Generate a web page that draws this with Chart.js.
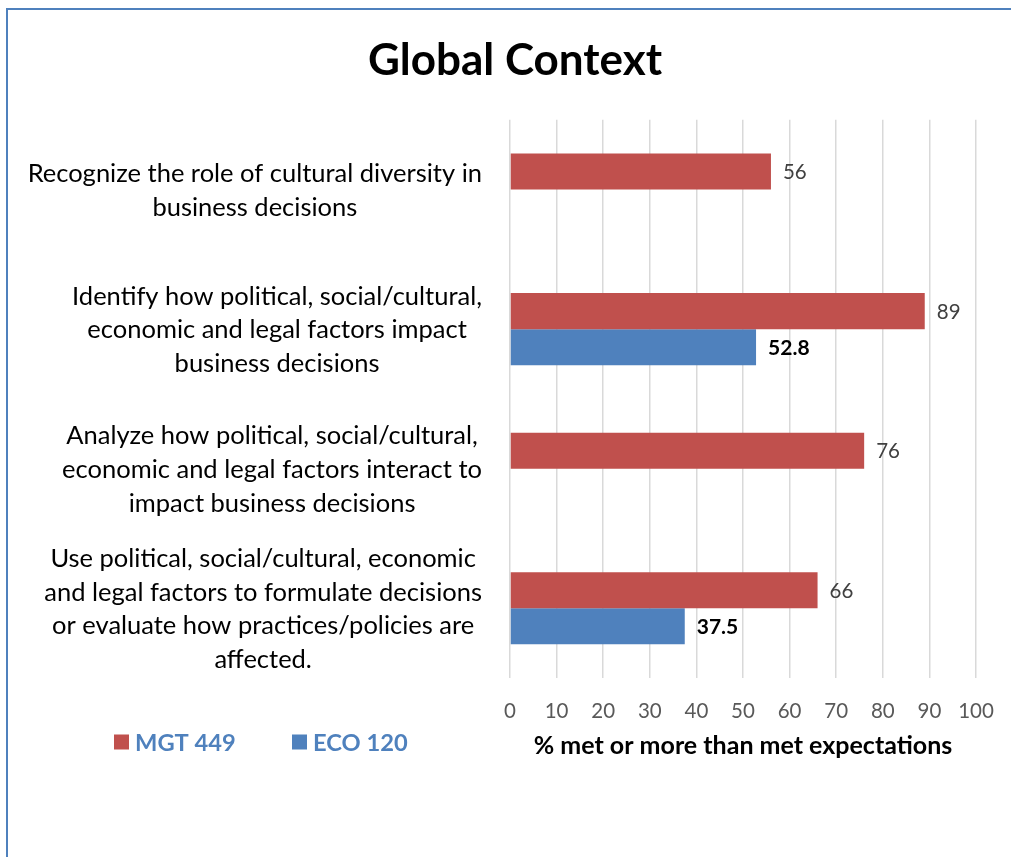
<!DOCTYPE html>
<html lang="en">
<head>
<meta charset="UTF-8">
<title>Global Context</title>
<script src="https://cdn.jsdelivr.net/npm/chart.js"></script>
<style>
  html, body { margin: 0; padding: 0; background: #fff; overflow: hidden; }
  .frame {
    position: absolute; left: 6px; top: 8px; width: 1100px; height: 900px;
    border-left: 2px solid #4F81BD; border-top: 2px solid #4F81BD;
  }
  #chart { position: absolute; left: 0; top: 0; }
</style>
</head>
<body>
<div class="frame">
  <canvas id="chart" width="1014" height="847"></canvas>
</div>
<script>
// data
const categories = [
  ["Recognize the role of cultural diversity in", "business decisions"],
  ["Identify how political, social/cultural,", "economic and legal factors impact", "business decisions"],
  ["Analyze how political, social/cultural,", "economic and legal factors interact to", "impact business decisions"],
  ["Use political, social/cultural, economic", "and legal factors to formulate decisions", "or evaluate how practices/policies are", "affected."]
];
const seriesNames = ["MGT 449", "ECO 120"];
const mgt449 = [56, 89, 76, 66];
const eco120 = [null, 52.8, null, 37.5];
const xTicks = [0, 10, 20, 30, 40, 50, 60, 70, 80, 90, 100];

const RED = '#C0504D';
const BLUE = '#4F81BD';
const FONT = 'Lato, Calibri, sans-serif';

// category labels, bar values and the legend are painted by hand
const extras = {
  id: 'extras',
  afterDraw(chart) {
    const ctx = chart.ctx;
    const area = chart.chartArea;
    const ys = chart.scales.y;
    ctx.save();

    // category labels: each block centred, blocks flush right against the axis
    ctx.font = '25.5px ' + FONT;
    ctx.fillStyle = '#000';
    ctx.textAlign = 'center';
    ctx.textBaseline = 'middle';
    const right = area.left - 28;
    const lh = 33.7;
    categories.forEach((lines, i) => {
      const w = Math.max(...lines.map(l => ctx.measureText(l).width));
      const cx = right - w / 2;
      const cy = ys.getPixelForValue(i) + 1;
      lines.forEach((l, j) => ctx.fillText(l, cx, cy + (j - (lines.length - 1) / 2) * lh));
    });

    // value labels
    ctx.textAlign = 'left';
    chart.data.datasets.forEach((ds, di) => {
      const meta = chart.getDatasetMeta(di);
      ctx.font = di === 0 ? '20.5px ' + FONT : 'bold 21px ' + FONT;
      ctx.fillStyle = di === 0 ? '#404040' : '#000';
      meta.data.forEach((bar, i) => {
        if (ds.data[i] == null) return;
        ctx.fillText(String(ds.data[i]), bar.x + 12, bar.y + 1);
      });
    });

    // legend
    const ly = area.bottom + 64;
    const lx = [106, 284];
    ctx.font = 'bold 23.7px ' + FONT;
    chart.data.datasets.forEach((ds, di) => {
      ctx.fillStyle = ds.backgroundColor;
      ctx.fillRect(lx[di], ly - 7.5, 15, 15);
      ctx.fillStyle = BLUE;
      ctx.fillText(ds.label, lx[di] + 21, ly + 1);
    });
    ctx.restore();
  }
};

new Chart(document.getElementById('chart'), {
  type: 'bar',
  data: {
    labels: categories,
    datasets: [
      { label: seriesNames[0], data: mgt449, backgroundColor: RED },
      { label: seriesNames[1], data: eco120, backgroundColor: BLUE }
    ]
  },
  options: {
    indexAxis: 'y',
    responsive: false,
    animation: false,
    categoryPercentage: 0.516,
    barPercentage: 1,
    layout: { padding: { left: 0, right: 0, top: 0, bottom: 93 } },
    plugins: {
      legend: { display: false },
      tooltip: { enabled: false },
      title: {
        display: true,
        text: 'Global Context',
        color: '#000',
        font: { family: FONT, size: 44, weight: 'bold' },
        padding: { top: 24, bottom: 33 }
      }
    },
    scales: {
      x: {
        min: 0, max: 100,
        afterBuildTicks(scale) { scale.ticks = xTicks.map(v => ({ value: v })); },
        afterFit(scale) { scale.height = 86; },
        grid: { color: '#d9d9d9', lineWidth: 1.5, drawTicks: false },
        border: { display: false },
        ticks: { color: '#595959', font: { family: FONT, size: 20.5 }, padding: 21 },
        title: {
          display: true,
          text: '% met or more than met expectations',
          color: '#000',
          font: { family: FONT, size: 25, weight: 'bold' },
          padding: { top: 8, bottom: 3 }
        }
      },
      y: {
        afterFit(scale) { scale.width = 502; },
        grid: { display: false },
        border: { display: false },
        ticks: { display: false }
      },
      // empty right-hand spacer so the title stays centred on the whole frame
      yRight: {
        type: 'category',
        position: 'right',
        afterFit(scale) { scale.width = 46; },
        grid: { display: false },
        border: { display: false },
        ticks: { display: false }
      }
    }
  },
  plugins: [extras]
});
</script>
</body>
</html>
